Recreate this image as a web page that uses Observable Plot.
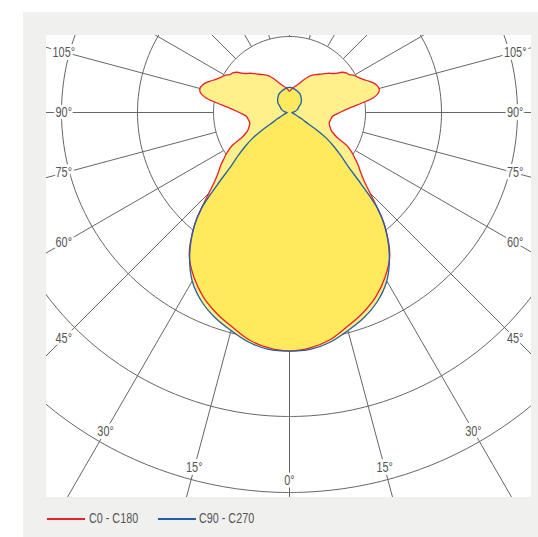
<!DOCTYPE html>
<html><head><meta charset="utf-8">
<script src="https://cdn.jsdelivr.net/npm/d3@7"></script>
<script src="https://cdn.jsdelivr.net/npm/@observablehq/plot@0.6"></script>
<style>
html,body{margin:0;padding:0;background:#fff;}
#frame{position:absolute;left:23px;top:12px;width:515px;height:525px;background:#f0f0ef;}
#chart{position:absolute;left:46px;top:35px;width:485px;height:462px;background:#fff;overflow:hidden;}
#chart svg{display:block;overflow:hidden;}
.sw{position:absolute;height:2px;top:518px;}
.lt{position:absolute;top:510px;line-height:18px;font:14px "Liberation Sans",Arial,sans-serif;color:#555;white-space:nowrap;transform:scaleX(0.77);transform-origin:0 50%;}
</style></head><body>
<div id="frame"></div><div id="chart"></div>
<div id="legend"></div>
<script>
// C0 - C180 curve (angle in degrees from nadir, intensity)
const c0Angles = [0,5,10,15,20,25,30,35,40,42.5,45,47.5,50,52.5,55,57.5,60,62.5,65,67.5,70,75,80,85,90,95,97.5,100,102.5,105,107.5,110,112.5,115,117.5,120,122.5,125,127.5,130,132.5,135,140,145,150,155,160,165,170,175,180];
const c0Values = [314,311,304,292,281,268,251,230,195,172,150,133,122,114,105,97,87,70,63,59,57,54,55,57,66,82,96,112,120,122,120,116,110,105,101,98,93,91,87,80,76,73,66,61,56,49,42,37,34,31,28];
// C90 - C270 curve
const c90Angles = [0,5,10,15,20,25,30,35,40,42.5,45,47.5,50,52.5,55,57.5,60,62.5,65,70,75,80,90,100,110,120,130,135,140,150,160,170,180];
const c90Values = [314,313,307,297,287,274,256,229,195,172,134,104,88,74,60,41,24,18,13,8,5,4,3,7,11,14,20,22,24,28,30,32,33];
// grid
const ringValues = [100,200,300,400,500];
const spokeAngles = [0,15,30,45,60,75,90,105,120,135,150,165,180];
const labelAngles = [0,15,30,45,60,75,90,105];
const seriesNames = ["C0 - C180","C90 - C270"];
const seriesColors = ["#e8202a","#2060a8"];

const K = 0.76, W = 485, H = 462, CX = 243, CY = 77;
function toXY(a, r, side){ const t = a*Math.PI/180; return {x: side*r*Math.sin(t), y: -r*Math.cos(t)}; }
function outline(angles, values){
  const p = [];
  for (let i = angles.length-1; i >= 0; i--) p.push(toXY(angles[i], values[i], -1));
  for (let i = 1; i < angles.length-1; i++) p.push(toXY(angles[i], values[i], 1));
  return p;
}
const c0 = outline(c0Angles, c0Values);
const c90 = outline(c90Angles, c90Values);
const ringPts = ringValues.flatMap(R => d3.range(0, 361, 2).map(a => ({R, ...toXY(a, R, 1)})));
const spokes = [-1,1].flatMap(s => spokeAngles.map(a => {
  const p1 = toXY(a, ringValues[0], s), p2 = toXY(a, 800, s);
  return {x1:p1.x, y1:p1.y, x2:p2.x, y2:p2.y};
}));
const labels = [-1,1].flatMap(s => labelAngles.filter(a => s < 0 || a > 0).map(a => {
  const t = a*Math.PI/180;
  const r = a === 0 ? 484 : Math.min(484, 297/Math.sin(t));
  return {...toXY(a, r, s), text: a + "°"};
}));

const font = '"Liberation Sans",Arial,sans-serif';
const chart = Plot.plot({
  width: W, height: H, margin: 0,
  x: {domain: [-CX/K, (W-CX)/K], axis: null},
  y: {domain: [-(H-CY)/K, CY/K], axis: null},
  style: {background: "white", overflow: "hidden"},
  marks: [
    Plot.line(ringPts, {x:"x", y:"y", z:"R", stroke:"#666", strokeWidth:1, curve:"catmull-rom", clip:true}),
    Plot.link(spokes, {x1:"x1", y1:"y1", x2:"x2", y2:"y2", stroke:"#666", strokeWidth:1, clip:true}),
    Plot.line(c0, {x:"x", y:"y", curve:"catmull-rom-closed", fill:"white", stroke:"none"}),
    Plot.line(c90, {x:"x", y:"y", curve:"catmull-rom-closed", fill:"white", stroke:"none"}),
    Plot.line(c0, {x:"x", y:"y", curve:"catmull-rom-closed", fill:"#ffe640", fillOpacity:0.6, stroke:"none"}),
    Plot.line(c90, {x:"x", y:"y", curve:"catmull-rom-closed", fill:"#ffe640", fillOpacity:0.6, stroke:"none"}),
    Plot.line(c0, {x:"x", y:"y", curve:"catmull-rom-closed", stroke:seriesColors[0], strokeWidth:1.3}),
    Plot.line(c90, {x:"x", y:"y", curve:"catmull-rom-closed", stroke:seriesColors[1], strokeWidth:1.3}),
    Plot.text(labels, {x:"x", y:"y", text:"text", fill:"white", stroke:"white", strokeWidth:6, fontSize:14, fontFamily:font}),
    Plot.text(labels, {x:"x", y:"y", text:"text", fill:"#555", fontSize:14, fontFamily:font})
  ]
});
document.getElementById("chart").appendChild(chart);
// condense the label glyphs horizontally around their own centres
chart.querySelectorAll("text").forEach(t => {
  const b = t.getBBox(); const cx = b.x + b.width/2, cy = b.y + b.height/2;
  const prev = t.getAttribute("transform") || "";
  t.setAttribute("transform", `${prev} translate(${cx},${cy}) scale(0.78,1) translate(${-cx},${-cy})`);
});

const lg = document.getElementById("legend");
const swX = [47, 158], txX = [89, 199];
seriesNames.forEach((n, i) => {
  const sw = document.createElement("span"); sw.className = "sw";
  sw.style.left = swX[i] + "px"; sw.style.width = "38px"; sw.style.background = seriesColors[i];
  const tx = document.createElement("span"); tx.className = "lt"; tx.style.left = txX[i] + "px"; tx.textContent = n;
  lg.appendChild(sw); lg.appendChild(tx);
});
</script></body></html>
